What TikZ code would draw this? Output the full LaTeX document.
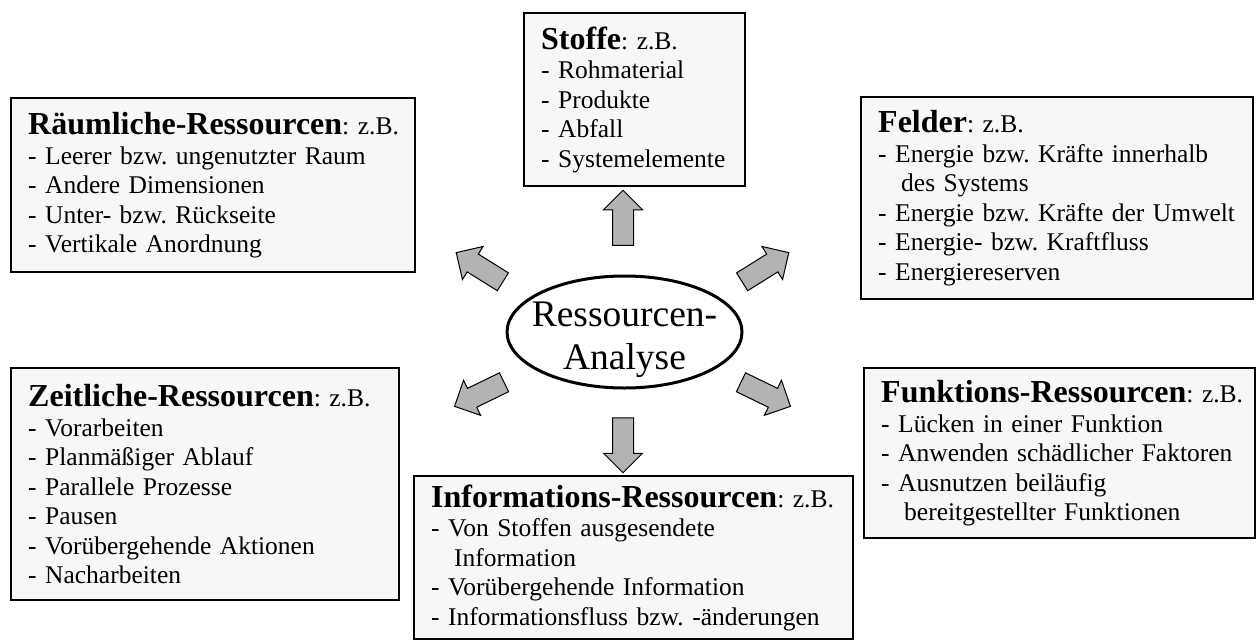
\documentclass[tikz,border=0pt]{standalone}
\usepackage{fontspec}
\setmainfont{Liberation Serif}
\usetikzlibrary{shapes.geometric,shapes.arrows}
\definecolor{boxfill}{HTML}{F7F7F7}
\definecolor{arrowfill}{HTML}{B3B3B3}
\frenchspacing
\newcommand{\reshead}[1]{\mbox{{\fontsize{32}{32}\selectfont\bfseries #1}: z.B.}}
\newcommand{\cont}{\hspace*{23pt}}
\begin{document}
\begin{tikzpicture}[x=1pt,y=-1pt,
		resbox/.style={
			draw=black,
			line width=2.4pt,
			fill=boxfill,
			anchor=north west,
			align=left,
			inner xsep=17pt,
			inner ysep=0pt,
			font=\fontsize{25.5}{29.5}\selectfont
		},
		centerell/.style={
			ellipse,
			draw,
			line width=3pt,
			fill=white,
			minimum width=235pt,
			minimum height=112pt,
			inner sep=0pt
		},
		centertext/.style={
			align=center,
			inner sep=0pt,
			font=\fontsize{37.5}{43}\selectfont
		},
		flowarrow/.style={
			single arrow,
			draw,
			line width=1pt,
			fill=arrowfill,
			minimum height=55pt,
			inner xsep=0pt,
			inner ysep=10pt,
			single arrow head extend=9pt
		}
		]
		\useasboundingbox (0,0) rectangle (1256,640);
		
		% Centre
		\node[centerell] (analyse) at (624.5,332) {};
		\node[centertext] (analysetext) at ([yshift=-8pt]analyse.center) {Ressourcen-\\Analyse};
		
		% Resource boxes
		\node[resbox, text width=187pt, minimum height=173pt] (stoffe) at (523,12)
		{\reshead{Stoffe}\\- Rohmaterial\\- Produkte\\- Abfall\\- Systemelemente};
		
		\node[resbox, text width=370pt, minimum height=174pt] (raum) at (10,97)
		{\reshead{Räumliche-Ressourcen}\\- Leerer bzw. ungenutzter Raum\\- Andere Dimensionen\\- Unter- bzw. Rückseite\\- Vertikale Anordnung};
		
		\node[resbox, text width=358pt, minimum height=202pt] (felder) at (860,96)
		{\reshead{Felder}\\- Energie bzw. Kräfte innerhalb\\\cont des Systems\\- Energie bzw. Kräfte der Umwelt\\- Energie- bzw. Kraftfluss\\- Energiereserven};
		
		\node[resbox, text width=354pt, minimum height=232pt] (zeit) at (10,367)
		{\reshead{Zeitliche-Ressourcen}\\- Vorarbeiten\\- Planmäßiger Ablauf\\- Parallele Prozesse\\- Pausen\\- Vorübergehende Aktionen\\- Nacharbeiten};
		
		\node[resbox, text width=357pt, minimum height=170pt] (funk) at (863,367)
		{\reshead{Funktions-Ressourcen}\\- Lücken in einer Funktion\\- Anwenden schädlicher Faktoren\\- Ausnutzen beiläufig\\\cont bereitgestellter Funktionen};
		
		\node[resbox, text width=405pt, minimum height=163pt] (info) at (413,475)
		{\reshead{Informations-Ressourcen}\\- Von Stoffen ausgesendete\\\cont Information\\- Vorübergehende Information\\- Informationsfluss bzw. -änderungen};
		
		% Block arrows round the centre
		\node[flowarrow, rotate=90] (aup) at (623,223) {};
		\node[flowarrow, rotate=-90] (adown) at (623,440) {};
		\node[flowarrow, rotate=148] (aul) at (484,270) {};
		\node[flowarrow, rotate=32] (aur) at (761,270) {};
		\node[flowarrow, rotate=206] (all) at (484,392) {};
		\node[flowarrow, rotate=-26] (alr) at (761,392) {};
		
	\end{tikzpicture}
\end{document}
